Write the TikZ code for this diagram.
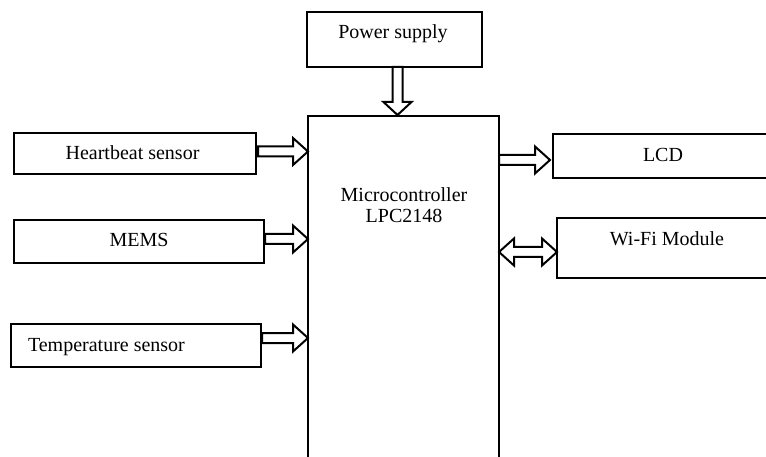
\documentclass[tikz,border=0pt]{standalone}
\usepackage{fontspec}
\setmainfont{Liberation Serif}
\usetikzlibrary{calc}
\begin{document}
\begin{tikzpicture}[x=1pt,y=-1pt,line width=2pt,
  box/.style={draw,rectangle,inner sep=0pt,outer sep=0pt},
  lbl/.style={font=\fontsize{20}{21}\selectfont,inner sep=0pt,anchor=base},
  rarrow/.style={to path={let \p1=(\tikztostart),\p2=(\tikztotarget) in
    (\x1,\y1+5pt) -- (\x2-15pt,\y1+5pt) -- (\x2-15pt,\y1+13.5pt) -- (\x2,\y1)
    -- (\x2-15pt,\y1-13.5pt) -- (\x2-15pt,\y1-5pt) -- (\x1,\y1-5pt) -- cycle}},
  darrow/.style={to path={let \p1=(\tikztostart),\p2=(\tikztotarget) in
    (\x1-5pt,\y1) -- (\x1-5pt,\y2+13pt) -- (\x1-14pt,\y2+13pt) -- (\x1,\y2)
    -- (\x1+14pt,\y2+13pt) -- (\x1+5pt,\y2+13pt) -- (\x1+5pt,\y1) -- cycle}},
  biarrow/.style={to path={let \p1=(\tikztostart),\p2=(\tikztotarget) in
    (\x1,\y1) -- (\x1+15pt,\y1+13.5pt) -- (\x1+15pt,\y1+5pt) -- (\x2-15pt,\y1+5pt)
    -- (\x2-15pt,\y1+13.5pt) -- (\x2,\y1) -- (\x2-15pt,\y1-13.5pt) -- (\x2-15pt,\y1-5pt)
    -- (\x1+15pt,\y1-5pt) -- (\x1+15pt,\y1-13.5pt) -- cycle}}]
\useasboundingbox (0,0) rectangle (766,457);
\clip (0,0) rectangle (766,457);

% boxes
\node[box,minimum width=175pt,minimum height=55pt] (ps) at (394.5,39.5) {};
\node[box,minimum width=191pt,minimum height=374pt] (mc) at (403.5,303) {};
\node[box,minimum width=242pt,minimum height=41pt] (hb) at (135,153.5) {};
\node[box,minimum width=250pt,minimum height=43pt] (mems) at (139,241.5) {};
\node[box,minimum width=250pt,minimum height=43pt] (temp) at (136,345.5) {};
\node[box,minimum width=220pt,minimum height=44pt] (lcd) at (663,156) {};
\node[box,minimum width=220pt,minimum height=60pt] (wifi) at (667,248) {};

% labels
\node[lbl] (ps-t) at (393,39) {Power supply};
\node[lbl] (mc-t1) at (404,202) {Microcontroller};
\node[lbl] (mc-t2) at (404,223) {LPC2148};
\node[lbl] (hb-t) at (132.5,160) {Heartbeat sensor};
\node[lbl] (mems-t) at (139,247) {MEMS};
\node[lbl,anchor=base west] (temp-t) at (27,351) {Temperature sensor};
\node[lbl] (lcd-t) at (663,162) {LCD};
\node[lbl] (wifi-t) at (667,246) {Wi-Fi Module};

% block arrows
\draw[darrow] ($(ps.south)+(3,0)$) to ($(mc.north)+(-6,-1)$);
\draw[rarrow] ($(hb.east)+(2,-2)$) to ($(hb.east -| mc.west)+(0,-2)$);
\draw[rarrow] ($(mems.east)+(1,-2.5)$) to ($(mems.east -| mc.west)+(0,-2.5)$);
\draw[rarrow] ($(temp.east)+(1,-7.5)$) to ($(temp.east -| mc.west)+(0,-7.5)$);
\draw[rarrow] ($(mc.east |- lcd.west)+(0,4)$) to ($(lcd.west)+(-3,4)$);
\draw[biarrow] ($(mc.east |- wifi.west)+(0,4)$) to ($(wifi.west)+(0,4)$);
\end{tikzpicture}
\end{document}
